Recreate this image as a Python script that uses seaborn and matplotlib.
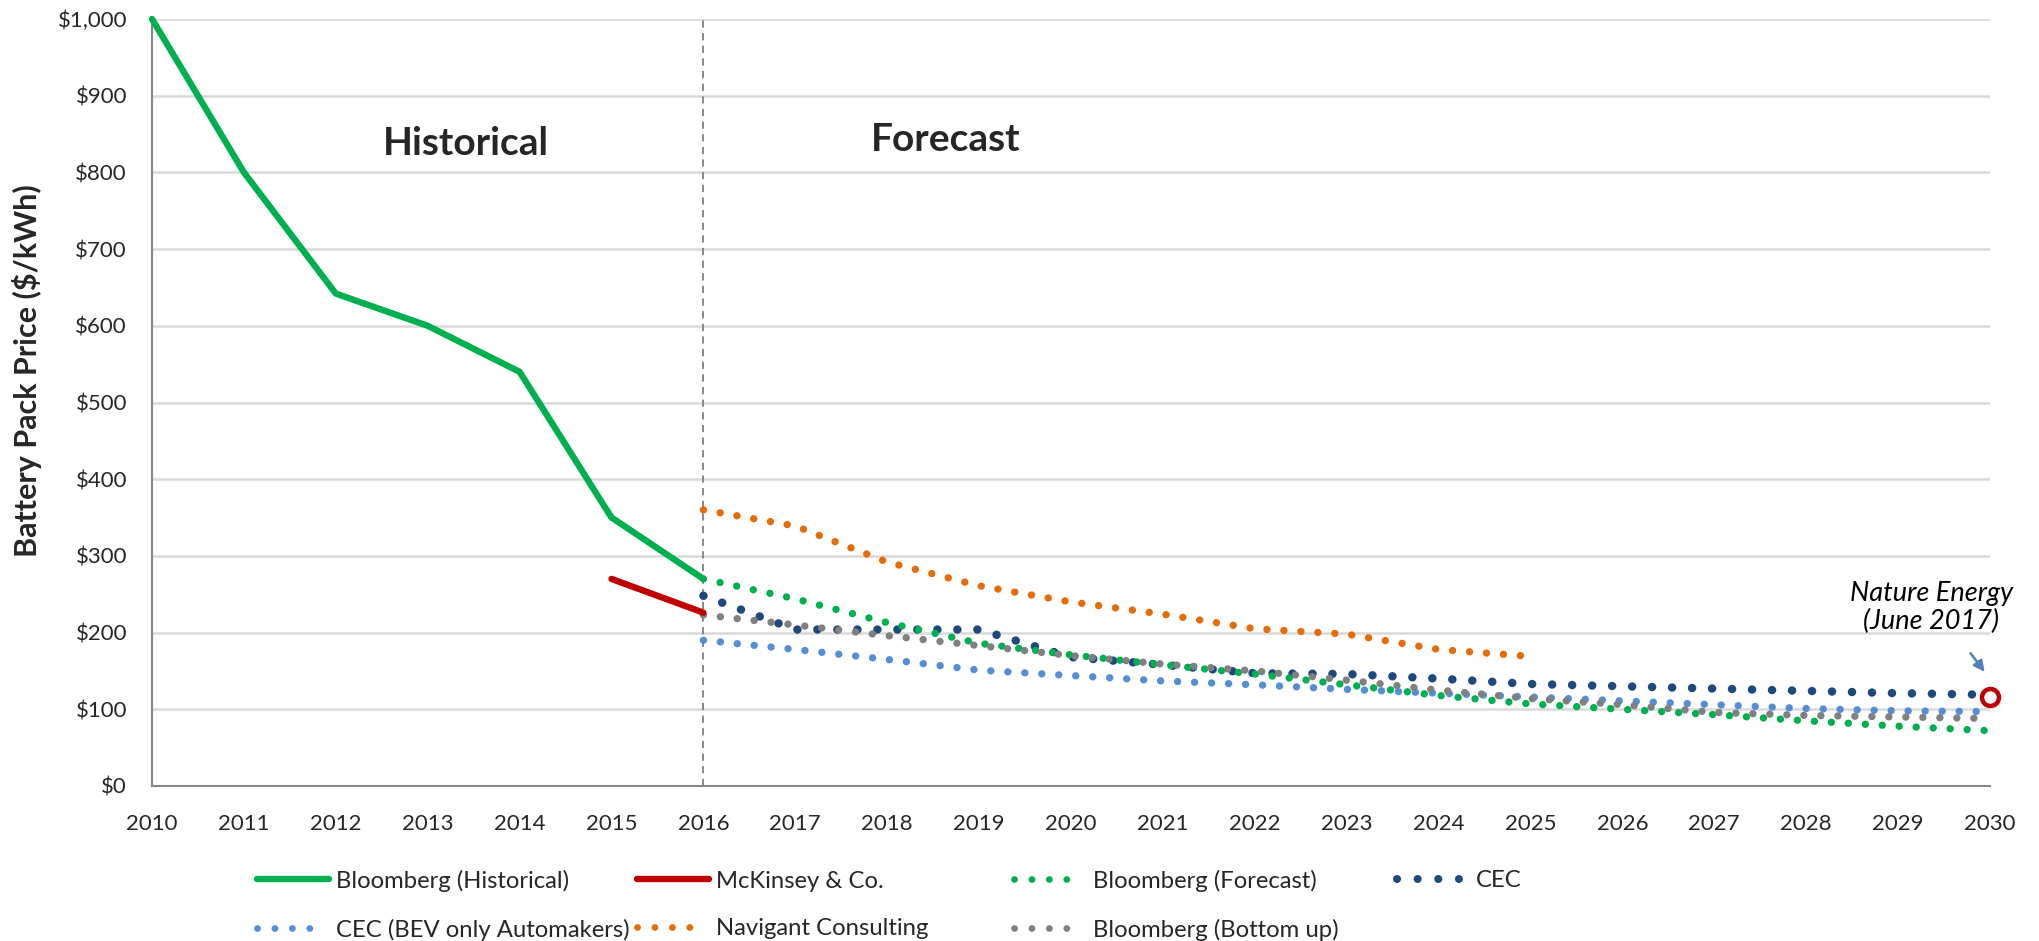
import matplotlib
matplotlib.use("Agg")
import matplotlib.pyplot as plt
import seaborn as sns
import pandas as pd
from matplotlib.lines import Line2D
from matplotlib.ticker import FuncFormatter, MultipleLocator

# ---- data ($/kWh) ----
hist_years = [2010, 2011, 2012, 2013, 2014, 2015, 2016]
bnef_hist = [1000, 800, 642, 600, 540, 350, 270]

mck_years = [2015, 2016]
mckinsey = [270, 226]

fc_years = list(range(2016, 2031))
bnef_fc = [270, 244, 213, 186, 171, 158, 146, 132, 118, 107, 100, 93, 85, 78, 72]
cec = [248, 204, 204, 204, 168, 158, 147, 146, 140, 133, 130, 127, 124, 121, 119]
cec_bev = [190, 178, 165, 151, 144, 137, 132, 126, 121, 116, 111, 106, 101, 98, 97]
bnef_bu = [223, 210, 196, 183, 170, 159, 150, 138, 125, 114, 106, 96, 92, 90, 88]

nav_years = list(range(2016, 2026))
navigant = [360, 339, 292, 261, 240, 224, 205, 198, 178, 169]

nature_year = 2030
nature_value = 116

x_ticks = list(range(2010, 2031))

# ---- style ----
sns.set_theme(style="white")
plt.rcParams["font.family"] = ["Lato", "DejaVu Sans"]

GREEN = "#00B050"
RED = "#C00000"
NAVY = "#1F497D"
LBLUE = "#558ED5"
ORANGE = "#E46C0A"
GRAY = "#808080"

W, H = 2040, 941
fig = plt.figure(figsize=(W / 100, H / 100), dpi=100)
ax = fig.add_axes([152 / W, 1 - 786 / H, 1838 / W, 767 / H])

def dots(width, gap=2.3):
    # round-dot line; gap is the dot pitch in units of the line width
    return dict(linewidth=width, linestyle=(0, (0.01, gap)),
                dash_capstyle="round", solid_capstyle="round")

def legend_dots(color, width, gap=2.55):
    # four dots, then a long gap so the key shows exactly four
    pattern = (0.01, gap) * 3 + (0.01, 30)
    return Line2D([], [], color=color, linewidth=width,
                  linestyle=(0, pattern), dash_capstyle="round")

def series(years, values):
    return pd.DataFrame({"year": years, "price": values})

h_hist = sns.lineplot(data=series(hist_years, bnef_hist), x="year", y="price", ax=ax,
                      color=GREEN, linewidth=4.6, clip_on=False, zorder=5).lines[-1]
h_mck = sns.lineplot(data=series(mck_years, mckinsey), x="year", y="price", ax=ax,
                     color=RED, linewidth=4.6, zorder=5).lines[-1]
sns.lineplot(data=series(nav_years, navigant), x="year", y="price", ax=ax,
             color=ORANGE, zorder=3, **dots(5.3))
sns.lineplot(data=series(fc_years, cec_bev), x="year", y="price", ax=ax,
             color=LBLUE, zorder=3, **dots(5.3))
sns.lineplot(data=series(fc_years, cec), x="year", y="price", ax=ax,
             color=NAVY, zorder=3, **dots(6.1, 2.35))
sns.lineplot(data=series(fc_years, bnef_fc), x="year", y="price", ax=ax,
             color=GREEN, zorder=4, **dots(5.3))
sns.lineplot(data=series(fc_years, bnef_bu), x="year", y="price", ax=ax,
             color=GRAY, zorder=4, **dots(5.3))

# Nature Energy point
ax.scatter([nature_year], [nature_value], s=150, facecolor="white",
           edgecolor=RED, linewidth=3.2, zorder=10, clip_on=False)
ax.annotate("", xy=(nature_year - 0.04, nature_value + 30),
            xytext=(nature_year - 0.23, nature_value + 60),
            arrowprops=dict(arrowstyle="-|>", color="#4F81BD", lw=1.8,
                            mutation_scale=16), zorder=10)
ax.text(nature_year - 0.64, 233, "Nature Energy\n(June 2017)",
        ha="center", va="center", fontsize=19.5, style="italic",
        linespacing=1.15, color="black")

# boundary between historical and forecast
ax.axvline(2016, color="#7F7F7F", linestyle=(0, (4, 3)), linewidth=1.3, zorder=2)

ax.text(2013.42, 838, "Historical", ha="center", va="center",
        fontsize=28, fontweight="bold")
ax.text(2018.64, 843, "Forecast", ha="center", va="center",
        fontsize=28, fontweight="bold")

# axes
ax.set_xlim(2010, 2030)
ax.set_ylim(0, 1000)
ax.set_xticks(x_ticks)
ax.set_xticklabels([str(y) for y in x_ticks])
ax.yaxis.set_major_locator(MultipleLocator(100))
ax.yaxis.set_major_formatter(FuncFormatter(lambda v, p: f"${v:,.0f}"))
ax.grid(axis="y", color="#D9D9D9", linewidth=1.8, zorder=0)
ax.grid(axis="x", visible=False)
ax.set_axisbelow(True)

for side in ("top", "right"):
    ax.spines[side].set_visible(False)
for side in ("left", "bottom"):
    ax.spines[side].set_color("#868686")
    ax.spines[side].set_linewidth(1.5)

ax.tick_params(axis="x", which="major", direction="out", length=5,
               width=1.5, color="#868686", labelsize=16, pad=15)
ax.tick_params(axis="y", which="major", length=0, labelsize=16, pad=18)
ax.set_xlabel("")
ax.set_ylabel("Battery Pack Price ($/kWh)", fontsize=22, fontweight="bold")
ax.yaxis.set_label_coords(-0.06, 0.542)

# legend laid out as a 4-column grid below the axis
legend_cols = [
    ([h_hist, legend_dots(LBLUE, 4.9)],
     ["Bloomberg (Historical)", "CEC (BEV only Automakers)"], 257),
    ([h_mck, legend_dots(ORANGE, 4.9)],
     ["McKinsey & Co.", "Navigant Consulting"], 637),
    ([legend_dots(GREEN, 4.9), legend_dots(GRAY, 4.9)],
     ["Bloomberg (Forecast)", "Bloomberg (Bottom up)"], 1014),
    ([legend_dots(NAVY, 5.8)], ["CEC"], 1397),
]
for handles, labels, x0 in legend_cols:
    y_mid = 905 if len(handles) == 2 else 880.5
    fig.legend(handles, labels, loc="center left",
               bbox_to_anchor=(x0 / W, 1 - y_mid / H),
               frameon=False, fontsize=17.2, handlelength=3.0,
               handletextpad=0.3, labelspacing=1.13,
               borderpad=0, borderaxespad=0)

fig.savefig("out.png", dpi=100)
